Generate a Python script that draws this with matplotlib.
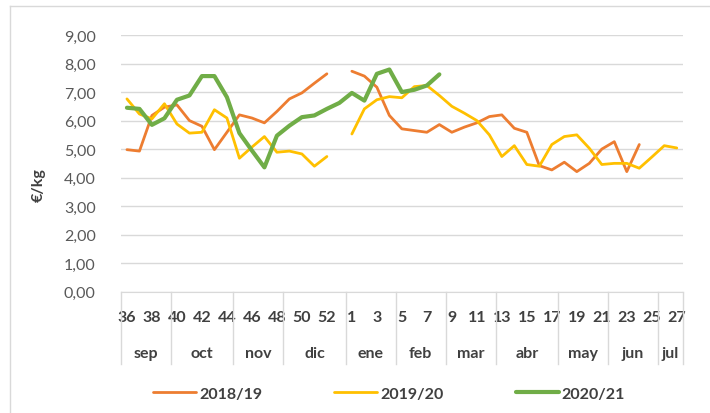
import numpy as np
import matplotlib.pyplot as plt
from matplotlib.transforms import blended_transform_factory
from matplotlib.lines import Line2D

plt.rcParams['font.family'] = ['Lato', 'DejaVu Sans']

# week numbers (campaign runs from week 36 to week 27 of next year)
weeks = [36, 37, 38, 39, 40, 41, 42, 43, 44, 45, 46, 47, 48, 49, 50, 51, 52, 53,
         1, 2, 3, 4, 5, 6, 7, 8, 9, 10, 11, 12, 13, 14, 15, 16, 17, 18, 19, 20,
         21, 22, 23, 24, 25, 26, 27]
months = ["sep", "oct", "nov", "dic", "ene", "feb", "mar", "abr", "may", "jun", "jul"]
month_weeks = [4, 5, 4, 5, 4, 4, 4, 5, 4, 4, 2]

nan = np.nan
s2018 = [4.98, 4.93, 6.18, 6.47, 6.55, 6.00, 5.80, 4.98, 5.59, 6.20, 6.09, 5.92,
         6.32, 6.76, 6.97, 7.31, 7.64, nan,
         7.73, 7.56, 7.17, 6.18, 5.71, 5.65, 5.59, 5.86, 5.59, 5.77, 5.92, 6.14,
         6.20, 5.73, 5.59, 4.42, 4.27, 4.54, 4.21, 4.50, 5.00, 5.26, 4.21, 5.16,
         nan, nan, nan]
s2019 = [6.76, 6.23, 6.06, 6.59, 5.88, 5.56, 5.59, 6.38, 6.09, 4.68, 5.07, 5.44,
         4.89, 4.93, 4.83, 4.40, 4.74, nan,
         5.53, 6.41, 6.73, 6.84, 6.80, 7.19, 7.23, 6.88, 6.50, 6.26, 6.00, 5.50,
         4.74, 5.12, 4.46, 4.40, 5.16, 5.44, 5.50, 5.03, 4.46, 4.50, 4.50, 4.33,
         4.72, 5.12, 5.04]
s2020 = [6.45, 6.41, 5.85, 6.08, 6.73, 6.88, 7.56, 7.56, 6.82, 5.56, 4.95, 4.36,
         5.47, 5.82, 6.12, 6.18, 6.41, 6.62,
         6.97, 6.70, 7.64, 7.79, 7.00, 7.08, 7.23, 7.62, nan, nan, nan, nan,
         nan, nan, nan, nan, nan, nan, nan, nan, nan, nan, nan, nan,
         nan, nan, nan]

series = [("2018/19", s2018, "#ED7D31", 2.0),
          ("2019/20", s2019, "#FFC000", 2.0),
          ("2020/21", s2020, "#70AD47", 3.0)]

txt = "#404040"
grid = "#D9D9D9"

fig = plt.figure(figsize=(7.1, 4.14), dpi=100)
ax = fig.add_axes([0.170, 0.293, 0.792, 0.620])

x = np.arange(len(weeks))
for name, vals, col, lw in series:
    ax.plot(x, vals, color=col, lw=lw, label=name, solid_capstyle='round')

yt = np.arange(0, 10)
ax.set_ylim(0, 9)
ax.set_xlim(-0.5, len(weeks) - 0.5)
ax.set_yticks(yt)
ax.set_yticklabels([("%.2f" % v).replace(".", ",") for v in yt])
ax.yaxis.grid(True, color=grid, lw=1)
ax.set_axisbelow(True)
ax.tick_params(axis='y', length=0, pad=18, labelsize=11.5, labelcolor="#595959")

ax.set_xticks(x[::2])
ax.set_xticklabels([str(w) for w in weeks[::2]], fontweight='bold')
ax.tick_params(axis='x', length=0, pad=13, labelsize=11.5, labelcolor=txt)

for s in ["left", "right", "top"]:
    ax.spines[s].set_visible(False)
ax.spines["bottom"].set_color(grid)

# month band under the week labels
tr = blended_transform_factory(ax.transData, ax.transAxes)
edge = -0.5
bounds = [edge]
for m, n in zip(months, month_weeks):
    ax.text(edge + n / 2, -0.239, m, transform=tr, ha='center', va='center',
            fontsize=11.5, fontweight='bold', color=txt)
    edge += n
    bounds.append(edge)
for b in bounds:
    ax.add_line(Line2D([b, b], [0, -0.282], transform=tr, color=grid, lw=1,
                       clip_on=False))

fig.text(0.054, 0.553, "€/kg", rotation=90, ha='center', va='center',
         fontsize=11.5, fontweight='bold', color=txt)

leg = fig.legend(loc='center', bbox_to_anchor=(389 / 710, 0.046), ncol=3,
                 frameon=False, handlelength=2.7, handletextpad=0.2,
                 columnspacing=4.5, prop={'size': 11.5, 'weight': 'bold'})
for t in leg.get_texts():
    t.set_color(txt)

# chart area border
fig.add_artist(Line2D([10 / 710, 10 / 710], [0, 1 - 7 / 414], color=grid, lw=1))
fig.add_artist(Line2D([10 / 710, 1], [1 - 7 / 414, 1 - 7 / 414], color=grid, lw=1))

fig.savefig("out.png", dpi=100)
